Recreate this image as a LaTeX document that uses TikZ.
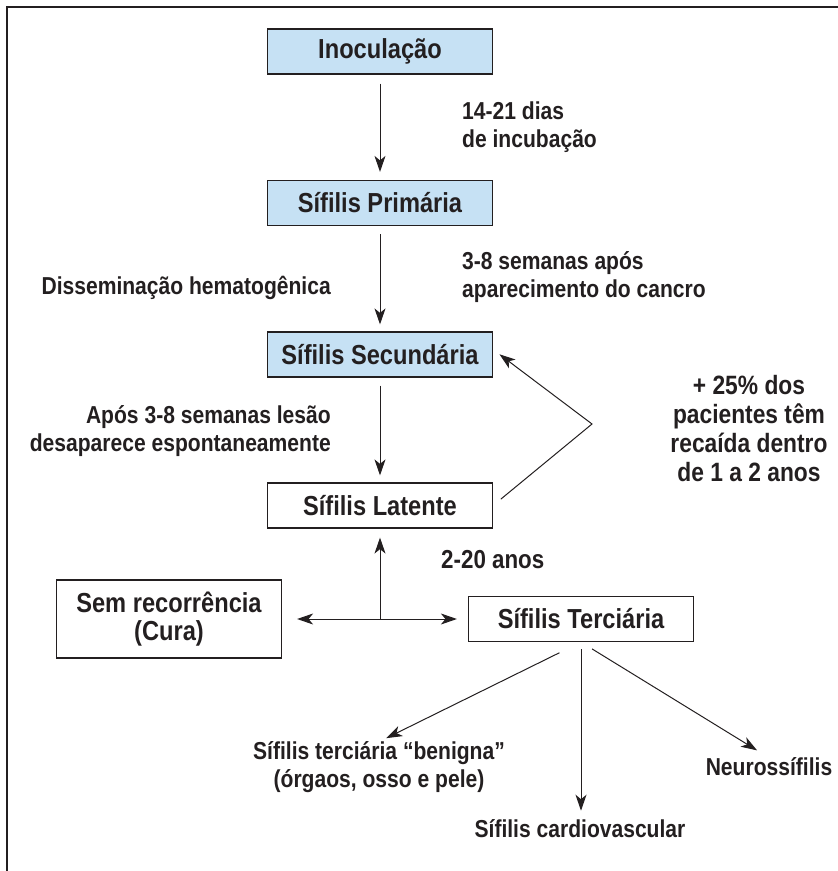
\documentclass[tikz,border=0pt]{standalone}
\usepackage{fontspec}
\setmainfont[FakeStretch=0.86]{Liberation Sans}
\usetikzlibrary{arrows.meta}
\definecolor{boxblue}{RGB}{198,225,244}
\definecolor{ink}{RGB}{35,31,32}

\begin{document}
\begin{tikzpicture}[x=1pt, y=-1pt,
    every node/.style={font=\fontsize{24.5}{28}\selectfont\bfseries, text=ink, inner sep=0pt},
    stage/.style={draw=ink, line width=1.2pt, minimum width=225pt, minimum height=45pt,
      font=\fontsize{27.5}{28}\selectfont\bfseries},
    arr/.style={draw=ink, line width=1pt, -{Stealth[length=16pt, width=11pt, inset=4.5pt]}},
    dblarr/.style={draw=ink, line width=1pt, {Stealth[length=16pt, width=11pt, inset=4.5pt]}-{Stealth[length=16pt, width=11pt, inset=4.5pt]}}]
      \useasboundingbox (0,0) rectangle (838,871);
      \draw[line width=1.6pt, ink] (838,7) -- (7,7) -- (7,871);

      % stages
      \node[stage, fill=boxblue] (inoc) at (380,51.5) {Inoculação};
      \node[stage, fill=boxblue] (prim) at (380,203) {Sífilis Primária};
      \node[stage, fill=boxblue] (secu) at (380,354.5) {Sífilis Secundária};
      \node[stage] (late) at (380,505.5) {Sífilis Latente};
      \node[stage, minimum height=78pt, align=center] (semrec) at (169,619) {Sem recorrência\\(Cura)};
      \node[stage] (terc) at (581,619) {Sífilis Terciária};

      % labels
      \node[anchor=west, align=left] (incub) at (462,127) {14-21 dias\\de incubação};
      \node[anchor=west, align=left] (cancro) at (462,277.5) {3-8 semanas após\\aparecimento do cancro};
      \node[anchor=east] (dissem) at (331,288) {Disseminação hematogênica};
      \node[anchor=east, align=right] (lesao) at (331,431.5) {Após 3-8 semanas lesão\\desaparece espontaneamente};
      \node[align=center, font=\fontsize{26.5}{29}\selectfont\bfseries] (recaida) at (749,428.5) {+ 25\% dos\\pacientes têm\\recaída dentro\\de 1 a 2 anos};
      \node[anchor=west, font=\fontsize{26}{28}\selectfont\bfseries] (anos) at (441,560) {2-20 anos};
      \node[align=center] (benigna) at (379,767.5) {Sífilis terciária “benigna”\\(órgaos, osso e pele)};
      \node (cardio) at (580,829) {Sífilis cardiovascular};
      \node (neuro) at (769,767) {Neurossífilis};

      % arrows
      \draw[arr, shorten <=9pt, shorten >=8pt] (inoc) -- (prim);
      \draw[arr, shorten <=8pt, shorten >=7pt] (prim) -- (secu);
      \draw[arr, shorten <=8pt, shorten >=7pt] (secu) -- (late);
      \coordinate (apex) at (592,424);
      \draw[arr, shorten <=10pt, shorten >=8pt] (late.east) -- (apex) -- ([yshift=5pt]secu.east);
      \coordinate (split) at (late.south |- terc.west);
      \draw[arr, shorten >=9pt] (split) -- (late);
      \draw[dblarr, shorten <=15pt, shorten >=11pt] (semrec) -- (terc);
      \draw[arr, shorten <=24pt, shorten >=8pt] (terc.south) -- (benigna.north);
      \draw[arr, shorten <=7pt, shorten >=9pt] (terc.south) -- (terc.south |- cardio.north);
      \draw[arr, shorten <=13pt, shorten >=14pt] (terc.south) -- (neuro.north);
\end{tikzpicture}
\end{document}
